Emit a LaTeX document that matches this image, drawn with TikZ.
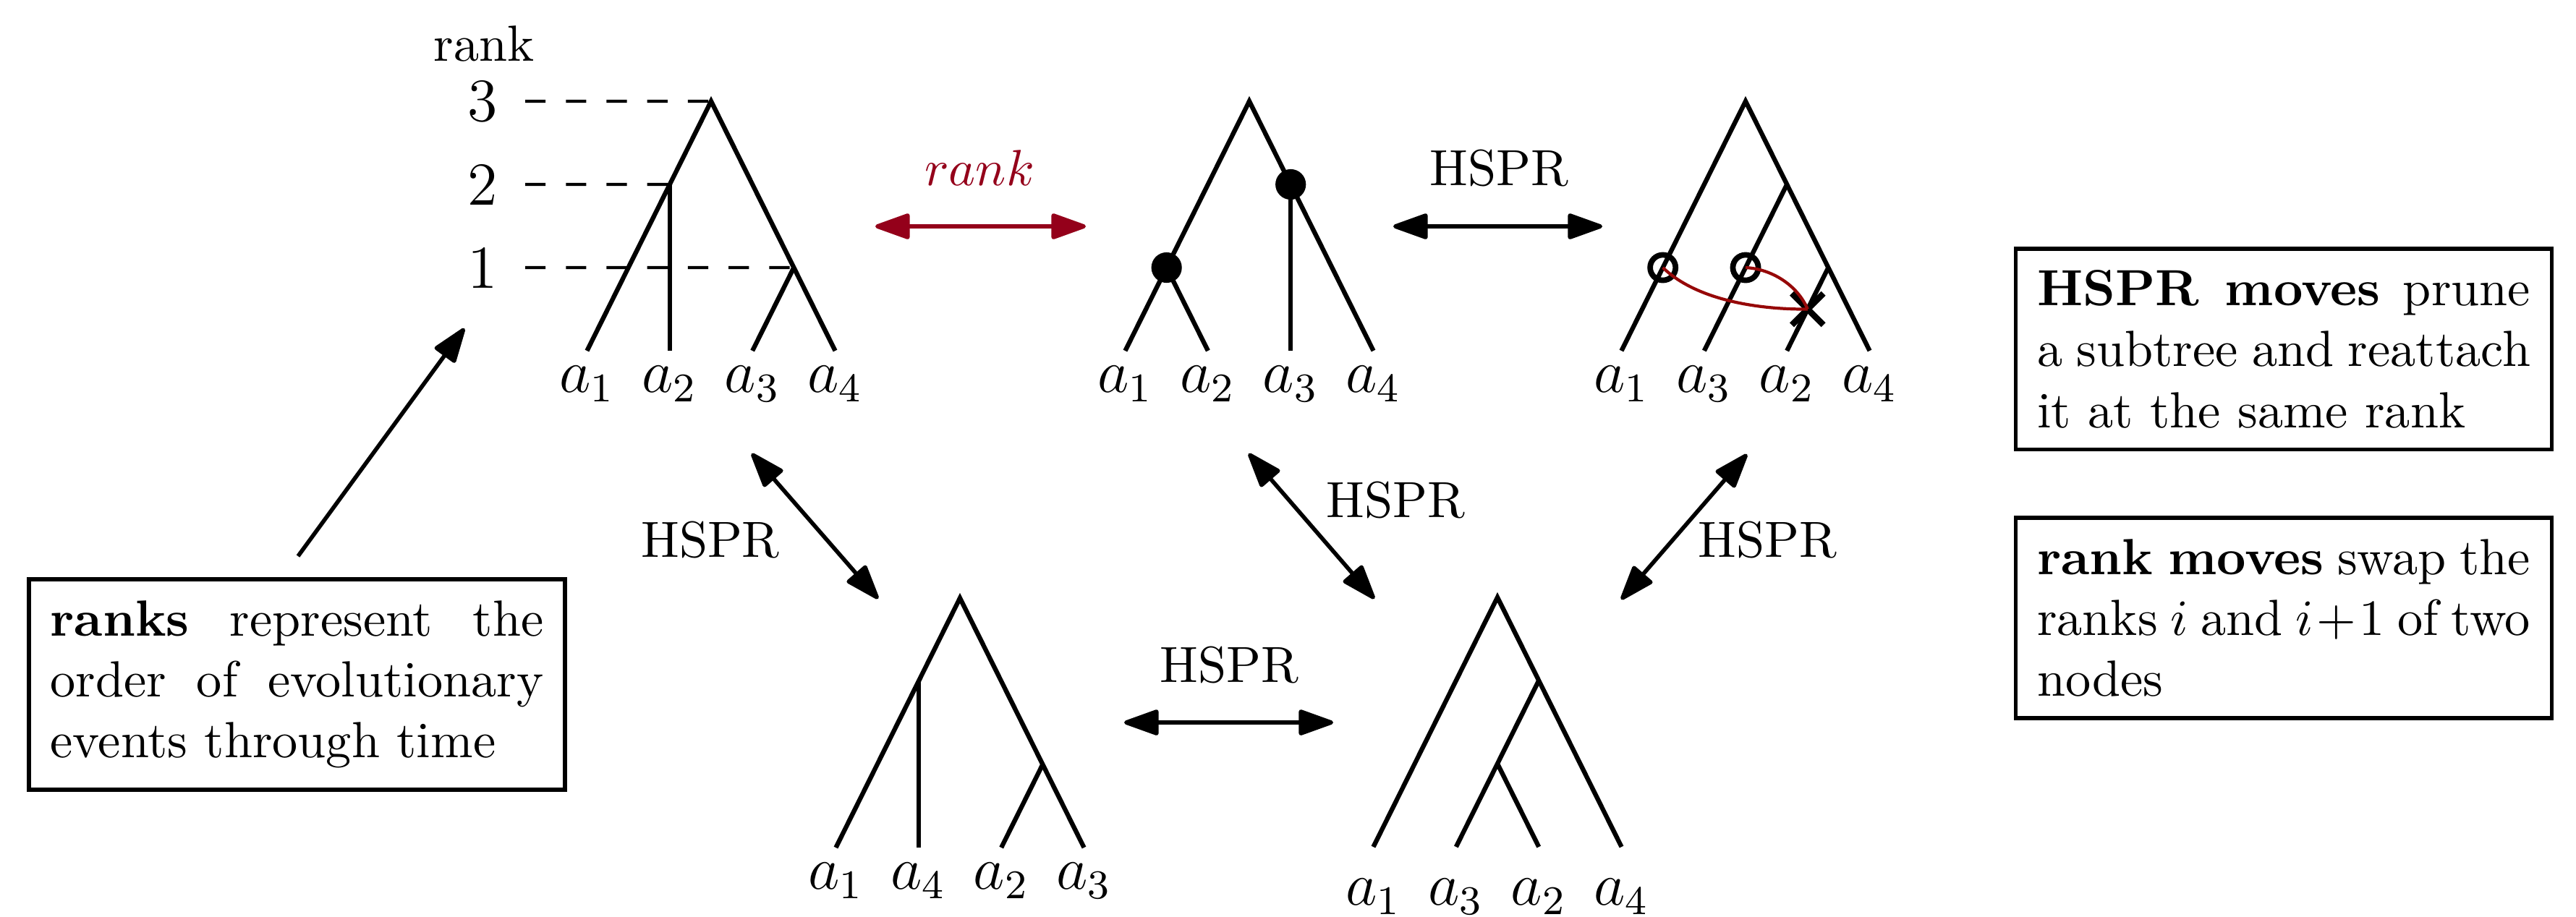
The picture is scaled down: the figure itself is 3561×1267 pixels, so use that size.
\documentclass[tikz,border=0pt]{standalone}
\usetikzlibrary{arrows.meta,shapes.misc}
\definecolor{rankred}{RGB}{148,0,26}
\definecolor{curvered}{RGB}{150,8,8}
\begin{document}
\begin{tikzpicture}[x=0.14225pt,y=-0.14225pt,
  edge/.style={line width=0.9pt},
  rankline/.style={line width=0.6pt, dash pattern=on 4pt off 4pt},
  biarrow/.style={line width=0.8pt,{Triangle[length=7.6pt,width=5.2pt,round]}-{Triangle[length=7.6pt,width=5.2pt,round]}},
  onearrow/.style={line width=0.8pt,-{Triangle[length=7.6pt,width=5.2pt,round]}},
  lbl/.style={anchor=base, font=\large, inner sep=0pt},
  mv/.style={anchor=base, inner sep=0pt},
  digit/.style={font=\large, inner sep=0pt},
  dot/.style={circle, fill=black, minimum size=6pt, inner sep=0pt},
  ring/.style={circle, draw, line width=1.1pt, minimum size=5pt, inner sep=0pt},
  xmark/.style={cross out, draw, line width=1.2pt, minimum size=5pt, inner sep=0pt},
  redcurve/.style={curvered, line width=0.6pt},
  infobox/.style={draw, line width=0.8pt, text width=97pt, align=justify, inner xsep=4.2pt, inner ysep=4.2pt, anchor=north}]
\useasboundingbox (0,0) rectangle (3561,1267);

% ---------- rank axis ----------
\node[mv] (ranklab) at (669,84) {rank};
\node[digit] (r3) at (667,140) {3};
\node[digit] (r2) at (667,255) {2};
\node[digit] (r1) at (667,370) {1};
\coordinate (d3) at (726,140);
\coordinate (d2) at (726,255);
\coordinate (d1) at (726,370);

% ---------- tree 1 ----------
\begin{scope}[shift={(983,485)},x=8.133pt,y=16.359pt]
  \coordinate (t1r) at (0,3);
  \coordinate (t1n2) at (-1,2);
  \coordinate (t1n1) at (2,1);
  \coordinate (t1a1) at (-3,0);
  \coordinate (t1a2) at (-1,0);
  \coordinate (t1a3) at (1,0);
  \coordinate (t1a4) at (3,0);
  \draw[edge] (t1a1) -- (t1r) -- (t1a4);
  \draw[edge] (t1n2) -- (t1a2);
  \draw[edge] (t1n1) -- (t1a3);
  \node[lbl] (t1l1) at (-3,-0.5) {$a_1$};
  \node[lbl] (t1l2) at (-1,-0.5) {$a_2$};
  \node[lbl] (t1l3) at (1,-0.5) {$a_3$};
  \node[lbl] (t1l4) at (3,-0.5) {$a_4$};
\end{scope}
\draw[rankline] (d3) -- (t1r);
\draw[rankline] (d2) -- (t1n2);
\draw[rankline] (d1) -- (t1n1);

% ---------- tree 2 ----------
\begin{scope}[shift={(1727,485)},x=8.133pt,y=16.359pt]
  \coordinate (t2r) at (0,3);
  \coordinate (t2n1) at (-2,1);
  \coordinate (t2n2) at (1,2);
  \coordinate (t2a1) at (-3,0);
  \coordinate (t2a2) at (-1,0);
  \coordinate (t2a3) at (1,0);
  \coordinate (t2a4) at (3,0);
  \draw[edge] (t2a1) -- (t2r) -- (t2a4);
  \draw[edge] (t2n1) -- (t2a2);
  \draw[edge] (t2n2) -- (t2a3);
  \node[dot] (t2d1) at (t2n1) {};
  \node[dot] (t2d2) at (t2n2) {};
  \node[lbl] (t2l1) at (-3,-0.5) {$a_1$};
  \node[lbl] (t2l2) at (-1,-0.5) {$a_2$};
  \node[lbl] (t2l3) at (1,-0.5) {$a_3$};
  \node[lbl] (t2l4) at (3,-0.5) {$a_4$};
\end{scope}

% ---------- tree 3 ----------
\begin{scope}[shift={(2413,485)},x=8.133pt,y=16.359pt]
  \coordinate (t3r) at (0,3);
  \coordinate (t3n2) at (1,2);
  \coordinate (t3n1) at (2,1);
  \coordinate (t3a1) at (-3,0);
  \coordinate (t3a3) at (-1,0);
  \coordinate (t3a2) at (1,0);
  \coordinate (t3a4) at (3,0);
  \draw[edge] (t3a1) -- (t3r) -- (t3a4);
  \draw[edge] (t3n2) -- (t3a3);
  \draw[edge] (t3n1) -- (t3a2);
  \node[ring] (t3c1) at (-2,1) {};
  \node[ring] (t3c2) at (0,1) {};
  \node[xmark] (t3x) at (1.5,0.5) {};
  \draw[redcurve] (t3c1.center) .. controls (-1.19,0.609) and (0.297,0.496) .. (t3x.center);
  \draw[redcurve] (t3c2.center) .. controls (0.647,0.983) and (1.26,0.783) .. (t3x.center);
  \node[lbl] (t3l1) at (-3,-0.5) {$a_1$};
  \node[lbl] (t3l3) at (-1,-0.5) {$a_3$};
  \node[lbl] (t3l2) at (1,-0.5) {$a_2$};
  \node[lbl] (t3l4) at (3,-0.5) {$a_4$};
\end{scope}

% ---------- tree 4 ----------
\begin{scope}[shift={(1327,1172)},x=8.133pt,y=16.359pt]
  \coordinate (t4r) at (0,3);
  \coordinate (t4n2) at (-1,2);
  \coordinate (t4n1) at (2,1);
  \coordinate (t4a1) at (-3,0);
  \coordinate (t4a4) at (-1,0);
  \coordinate (t4a2) at (1,0);
  \coordinate (t4a3) at (3,0);
  \draw[edge] (t4a1) -- (t4r) -- (t4a3);
  \draw[edge] (t4n2) -- (t4a4);
  \draw[edge] (t4n1) -- (t4a2);
  \node[lbl] (t4l1) at (-3,-0.5) {$a_1$};
  \node[lbl] (t4l4) at (-1,-0.5) {$a_4$};
  \node[lbl] (t4l2) at (1,-0.5) {$a_2$};
  \node[lbl] (t4l3) at (3,-0.5) {$a_3$};
\end{scope}

% ---------- tree 5 ----------
\begin{scope}[shift={(2070,1171)},x=8.133pt,y=16.359pt]
  \coordinate (t5r) at (0,3);
  \coordinate (t5n2) at (1,2);
  \coordinate (t5n1) at (0,1);
  \coordinate (t5a1) at (-3,0);
  \coordinate (t5a3) at (-1,0);
  \coordinate (t5a2) at (1,0);
  \coordinate (t5a4) at (3,0);
  \draw[edge] (t5a1) -- (t5r) -- (t5a4);
  \draw[edge] (t5n2) -- (t5a3);
  \draw[edge] (t5n1) -- (t5a2);
  \node[lbl] (t5l1) at (-3,-0.7) {$a_1$};
  \node[lbl] (t5l3) at (-1,-0.7) {$a_3$};
  \node[lbl] (t5l2) at (1,-0.7) {$a_2$};
  \node[lbl] (t5l4) at (3,-0.7) {$a_4$};
\end{scope}

% ---------- moves ----------
\coordinate (ra) at (1210,313);
\coordinate (rb) at (1501,313);
\draw[biarrow, rankred] (ra) -- (rb);
\node[mv, text=rankred] (rlab) at (1354,256) {$rank$};

\coordinate (ha) at (1926,313);
\coordinate (hb) at (2215,313);
\draw[biarrow] (ha) -- (hb);
\node[mv] (hlab1) at (2072,256) {HSPR};

\coordinate (ua) at (1039,627);
\coordinate (ub) at (1214,828);
\draw[biarrow] (ua) -- (ub);
\node[mv] (hlab2) at (982,770) {HSPR};

\coordinate (va) at (1726,627);
\coordinate (vb) at (1900,828);
\draw[biarrow] (va) -- (vb);
\node[mv] (hlab3) at (1929,715) {HSPR};

\coordinate (wa) at (2415,628);
\coordinate (wb) at (2241,829);
\draw[biarrow] (wa) -- (wb);
\node[mv] (hlab4) at (2443,770) {HSPR};

\coordinate (za) at (1554,999);
\coordinate (zb) at (1843,999);
\draw[biarrow] (za) -- (zb);
\node[mv] (hlab5) at (1699,943) {HSPR};

% ---------- boxes ----------
\node[infobox] (boxranks) at (410.5,798) {\textbf{ranks} represent the order of evolutionary events through time};
\node[infobox] (boxhspr) at (3157,341) {\textbf{HSPR moves} prune a subtree and reattach it at the same rank};
\node[infobox] (boxrank) at (3157,713) {\textbf{rank moves} swap the ranks $i$ and $i+1$ of two nodes};

\coordinate (pa) at (412,769);
\coordinate (pb) at (642,454);
\draw[onearrow] (pa) -- (pb);
\end{tikzpicture}
\end{document}
